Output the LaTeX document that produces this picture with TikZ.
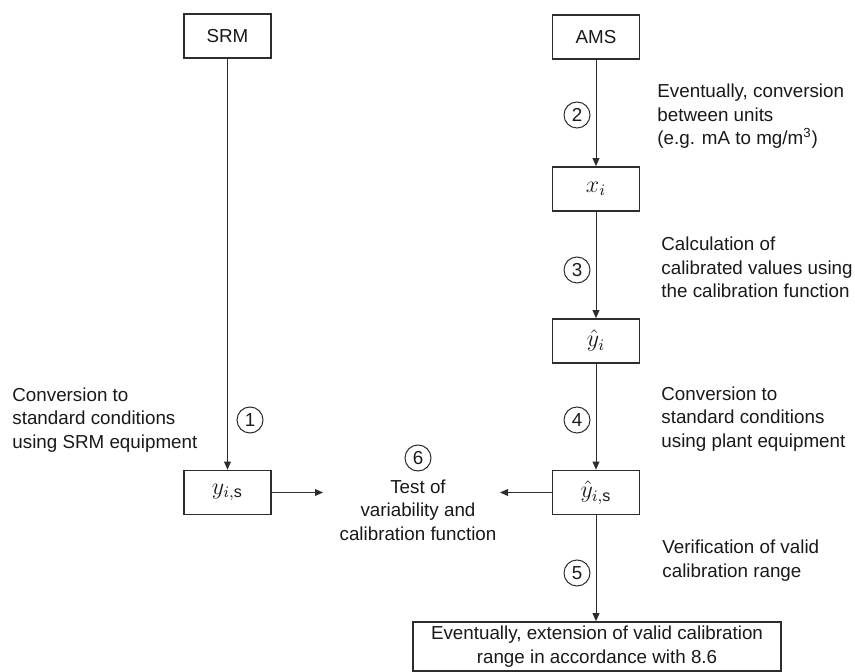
\documentclass[tikz,border=0pt]{standalone}
\usepackage{fontspec}
\setmainfont{Liberation Sans}
\usepackage{tikz}
\usetikzlibrary{positioning,arrows.meta}
\definecolor{linegray}{RGB}{45,45,45}
\definecolor{textgray}{RGB}{25,25,25}
\newcommand\varsize{\fontsize{11.5}{12}\selectfont}

\begin{document}
\begin{tikzpicture}[
  x=0.5pt,y=-0.5pt,
  >={Triangle[length=4pt,width=3.4pt]},
  font=\fontsize{9.4}{11.75}\selectfont,
  box/.style={draw=linegray,line width=0.8pt,minimum width=43.5pt,minimum height=22pt,inner sep=0pt,text=textgray},
  num/.style={draw=linegray,line width=0.5pt,circle,minimum size=13pt,inner sep=0pt,text=textgray},
  note/.style={anchor=west,align=left,inner sep=0pt,text=textgray},
  arr/.style={->,draw=linegray,line width=0.5pt}
  ]
  \useasboundingbox (0,0) rectangle (855,672);
  % Boxes
  \node[box] (srm)   at (227.5,36)  {SRM};
  \node[box] (ams)   at (596,37)    {AMS};
  \node[box,font=\varsize] (xi)    at (596,189)   {$x_i$};
  \node[box,font=\varsize] (yhat)  at (596,341)   {$\hat{y}_i$};
  \node[box,font=\varsize] (yis)   at (227.5,492.5) {$y_{i,\mathrm{s}}$};
  \node[box,font=\varsize] (yhats) at (596,492.5) {$\hat{y}_{i,\mathrm{s}}$};
  \node[box,minimum width=184pt,minimum height=24.5pt,align=center] (final) at (597,646.5)
    {Eventually, extension of valid calibration\\range in accordance with 8.6};
  % Test in the middle
  \node[num] (n6) at (418,458) {6};
  \node[align=center,inner sep=0pt,text=textgray] (test) at (418,510)
    {Test of\\variability and\\calibration function};
  \coordinate (tl) at (323,492.5);
  \coordinate (tr) at (500,492.5);
  % Connectors
  \draw[arr] (srm) -- (yis);
  \draw[arr] (ams) -- (xi);
  \draw[arr] (xi) -- (yhat);
  \draw[arr] (yhat) -- (yhats);
  \draw[arr] (yhats) -- (yhats |- final.north);
  \draw[arr] (yis) -- (tl);
  \draw[arr] (yhats) -- (tr);
  % Step numbers
  \node[num] (n1) at (250,420) {1};
  \node[num] (n2) at (577,115) {2};
  \node[num] (n3) at (577,270) {3};
  \node[num] (n4) at (577,420) {4};
  \node[num] (n5) at (577,573) {5};
  % Notes
  \node[note] (t1) at (12,420) {Conversion to\\standard conditions\\using SRM equipment};
  \node[note] (t2) at (657,116.5) {Eventually, conversion\\between units\\(e.g. mA to mg/m\textsuperscript{3})};
  \node[note] (t3) at (661,267.5) {Calculation of\\calibrated values using\\the calibration function};
  \node[note] (t4) at (661,419) {Conversion to\\standard conditions\\using plant equipment};
  \node[note] (t5) at (662,560.5) {Verification of valid\\calibration range};
\end{tikzpicture}
\end{document}
